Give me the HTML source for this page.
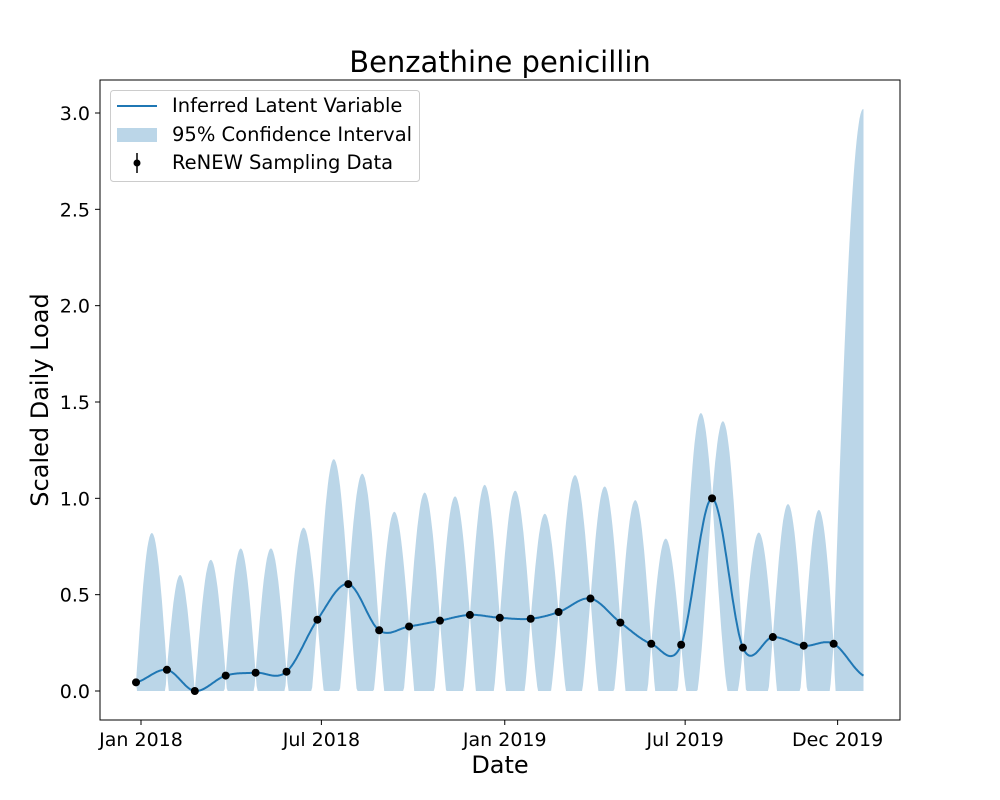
<!DOCTYPE html>
<html><head><meta charset="utf-8"><style>
body{margin:0;background:#fff;}
svg{display:block;font-family:"DejaVu Sans","Liberation Sans",sans-serif;}
</style></head><body>
<svg id="chart" width="1000" height="800">
<rect width="1000" height="800" fill="#fff"/>
<text x="500" y="72" text-anchor="middle" font-size="29">Benzathine penicillin</text>
<g id="band"></g>
<g id="line"></g>
<g id="pts"></g>
<rect x="100" y="80" width="800" height="640" fill="none" stroke="#000" stroke-width="1"/>
<g id="xticks"></g>
<g id="yticks"></g>
<text x="500" y="773" text-anchor="middle" font-size="24">Date</text>
<text transform="translate(48,400) rotate(-90)" text-anchor="middle" font-size="24">Scaled Daily Load</text>
<g>
<rect x="110.5" y="90.5" width="309" height="91" rx="3" fill="#fff" fill-opacity="0.8" stroke="#ccc"/>
<line x1="117" y1="106" x2="157" y2="106" stroke="#1f77b4" stroke-width="2"/>
<text x="172" y="112" font-size="19.5">Inferred Latent Variable</text>
<rect x="117" y="128" width="40" height="14" fill="#1f77b4" fill-opacity="0.3"/>
<text x="172" y="141" font-size="19.5">95% Confidence Interval</text>
<line x1="137" y1="153" x2="137" y2="173" stroke="#000" stroke-width="1.5"/>
<circle cx="137" cy="163" r="3.5" fill="#000"/>
<text x="172" y="169" font-size="19.5">ReNEW Sampling Data</text>
</g>
</svg>
<script>
// days since 2018-01-01
const sampleDays = [-5,26,54,85,115,146,177,208,239,269,300,330,360,391,419,451,481,512,542,573,604,634,665,695];
const sampleValues = [0.045,0.11,0.0,0.08,0.095,0.10,0.37,0.555,0.315,0.335,0.365,0.395,0.38,0.375,0.41,0.48,0.355,0.245,0.24,1.0,0.225,0.28,0.235,0.245];
const endDay = 725;
const endValue = 0.08;
const ciPeaks = [0.82,0.6,0.68,0.74,0.74,0.84,1.2,1.12,0.93,1.03,1.01,1.07,1.04,0.92,1.12,1.06,0.99,0.79,1.37,1.32,0.82,0.97,0.94,3.02];
const xTickDays = [0,181,365,546,699];
const xTickLabels = ["Jan 2018","Jul 2018","Jan 2019","Jul 2019","Dec 2019"];
const yTicks = [0,0.5,1.0,1.5,2.0,2.5,3.0];

const NS="http://www.w3.org/2000/svg";
const X = d => 141 + d*0.9966;
const Y = v => 691 - v*192.67;
function mk(tag, attrs, parent){const e=document.createElementNS(NS,tag);for(const k in attrs)e.setAttribute(k,attrs[k]);parent.appendChild(e);return e;}

const allD = sampleDays.concat([endDay]);
const allV = sampleValues.concat([endValue]);
function meanAt(i,t){
  const n=allV.length;
  const p0=allV[Math.max(i-1,0)],p1=allV[i],p2=allV[i+1],p3=allV[Math.min(i+2,n-1)];
  const t2=t*t,t3=t2*t;
  return 0.5*((2*p1)+(-p0+p2)*t+(2*p0-5*p1+4*p2-p3)*t2+(-p0+3*p1-3*p2+p3)*t3);
}
let linePts=[], up=[], lo=[];
const N=30;
for(let i=0;i<allV.length-1;i++){
  const last = i===allV.length-2;
  const midMean = meanAt(i, last?1:0.5);
  const H = ciPeaks[i]-midMean;
  for(let s=0;s<=N;s++){
    if(i>0&&s===0)continue;
    const t=s/N;
    const d=allD[i]+(allD[i+1]-allD[i])*t;
    const m=meanAt(i,t);
    const w=H*(last?Math.sin(Math.PI*t/2):Math.sin(Math.PI*t));
    linePts.push([X(d),Y(m)]);
    up.push([X(d),Y(m+w)]);
    lo.push([X(d),Y(Math.max(0,m-w))]);
  }
}
const bandPath = up.concat(lo.slice().reverse()).map(p=>p[0].toFixed(1)+","+p[1].toFixed(1)).join(" ");
const band = mk('polygon',{points:bandPath,fill:'#1f77b4','fill-opacity':0.3},document.getElementById('band'));


const ln = mk('polyline',{points:linePts.map(p=>p[0].toFixed(1)+","+p[1].toFixed(1)).join(" "),fill:'none',stroke:'#1f77b4','stroke-width':2},document.getElementById('line'));


sampleDays.forEach((d,i)=>{
  const c=mk('circle',{cx:X(d),cy:Y(sampleValues[i]),r:4,fill:'#000'},document.getElementById('pts'));
  
  
});
const xg=document.getElementById('xticks');
xTickDays.forEach((d,i)=>{
  const t=mk('line',{x1:X(d),x2:X(d),y1:720,y2:725,stroke:'#000'},xg);
  
  
  const l=mk('text',{x:X(d),y:746,'text-anchor':'middle','font-size':19},xg);
  l.textContent=xTickLabels[i];
  
  
});
const yg=document.getElementById('yticks');
yTicks.forEach(v=>{
  const t=mk('line',{x1:95,x2:100,y1:Y(v),y2:Y(v),stroke:'#000'},yg);
  
  
  const l=mk('text',{x:90,y:Y(v)+7,'text-anchor':'end','font-size':19},yg);
  l.textContent=v.toFixed(1);
  
  
});
</script>
</body></html>
